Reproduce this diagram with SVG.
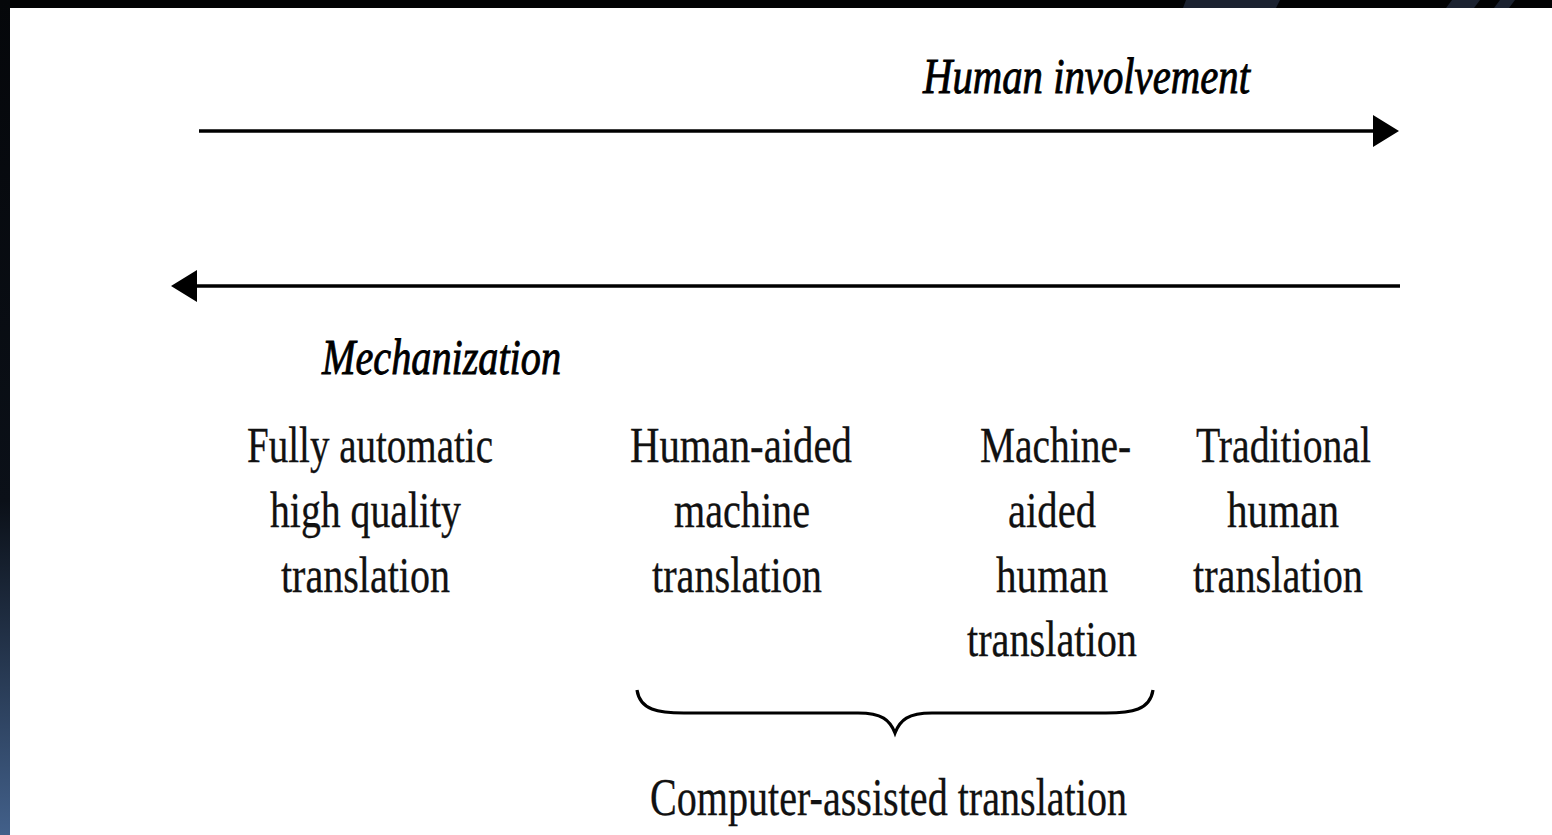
<svg xmlns="http://www.w3.org/2000/svg" width="1552" height="835" viewBox="0 0 1552 835">
  <defs>
    <linearGradient id="leftband" x1="0" y1="0" x2="0" y2="1">
      <stop offset="0" stop-color="#05070a"/>
      <stop offset="0.6" stop-color="#0b1018"/>
      <stop offset="1" stop-color="#42608a"/>
    </linearGradient>
    <marker id="head" markerUnits="userSpaceOnUse" viewBox="0 0 26 32" refX="12" refY="16" markerWidth="26" markerHeight="32" orient="auto">
      <path d="M0,0 L26,16 L0,32 Z" fill="#000"/>
    </marker>
    <style>
      .t { font-family: "Liberation Serif", "Times New Roman", serif; font-size: 50px; fill: #111; stroke: #111; stroke-width: 0.3; text-anchor: middle; }
      .i { font-style: italic; stroke-width: 0.9; fill: #000; stroke: #000; }
      .big { font-size: 52px; }
      .arrow { stroke: #000; stroke-width: 3.5; fill: none; }
      .brace { stroke: #000; stroke-width: 3.2; fill: none; }
    </style>
  </defs>

  <!-- slide background -->
  <g id="background">
    <rect x="0" y="0" width="1552" height="835" fill="#020304"/>
    <rect x="0" y="0" width="10" height="835" fill="url(#leftband)"/>
    <polygon points="1186,0 1280,0 1276,8 1183,8" fill="#1b2230"/>
    <polygon points="1452,0 1480,0 1474,8 1446,8" fill="#1b2230"/>
    <polygon points="1500,0 1515,0 1509,8 1494,8" fill="#1b2230"/>
    <rect x="10" y="8" width="1542" height="827" fill="#ffffff"/>
  </g>

  <g id="connectors">
    <line class="arrow" x1="199" y1="131" x2="1385" y2="131" marker-end="url(#head)"/>
    <line class="arrow" x1="1400" y1="286" x2="185" y2="286" marker-end="url(#head)"/>
    <path class="brace" d="M637,690 C640,710 658,713 684,713 L858,713 C882,713 890,720 895,733 C900,720 908,713 932,713 L1106,713 C1132,713 1150,710 1153,690"/>
  </g>

  <g id="label-human-involvement">
    <text class="t i" x="1086.5" y="93" textLength="327" lengthAdjust="spacingAndGlyphs">Human involvement</text>
  </g>
  <g id="label-mechanization">
    <text class="t i" x="441.5" y="374" textLength="239" lengthAdjust="spacingAndGlyphs">Mechanization</text>
  </g>

  <g id="node-fahqt">
    <text class="t" x="370" y="462" textLength="246" lengthAdjust="spacingAndGlyphs">Fully automatic</text>
    <text class="t" x="365.5" y="527" textLength="191" lengthAdjust="spacingAndGlyphs">high quality</text>
    <text class="t" x="365.5" y="592" textLength="169" lengthAdjust="spacingAndGlyphs">translation</text>
  </g>

  <g id="node-hamt">
    <text class="t" x="741" y="462" textLength="222" lengthAdjust="spacingAndGlyphs">Human-aided</text>
    <text class="t" x="742" y="527" textLength="136" lengthAdjust="spacingAndGlyphs">machine</text>
    <text class="t" x="737" y="592" textLength="170" lengthAdjust="spacingAndGlyphs">translation</text>
  </g>

  <g id="node-maht">
    <text class="t" x="1055.5" y="462" textLength="151" lengthAdjust="spacingAndGlyphs">Machine-</text>
    <text class="t" x="1052" y="527" textLength="88" lengthAdjust="spacingAndGlyphs">aided</text>
    <text class="t" x="1052" y="592" textLength="112" lengthAdjust="spacingAndGlyphs">human</text>
    <text class="t" x="1052" y="656" textLength="170" lengthAdjust="spacingAndGlyphs">translation</text>
  </g>

  <g id="node-traditional">
    <text class="t" x="1283.5" y="462" textLength="175" lengthAdjust="spacingAndGlyphs">Traditional</text>
    <text class="t" x="1283" y="527" textLength="112" lengthAdjust="spacingAndGlyphs">human</text>
    <text class="t" x="1278" y="592" textLength="170" lengthAdjust="spacingAndGlyphs">translation</text>
  </g>

  <g id="label-cat">
    <text class="t big" x="888.5" y="815" textLength="477" lengthAdjust="spacingAndGlyphs">Computer-assisted translation</text>
  </g>
</svg>
